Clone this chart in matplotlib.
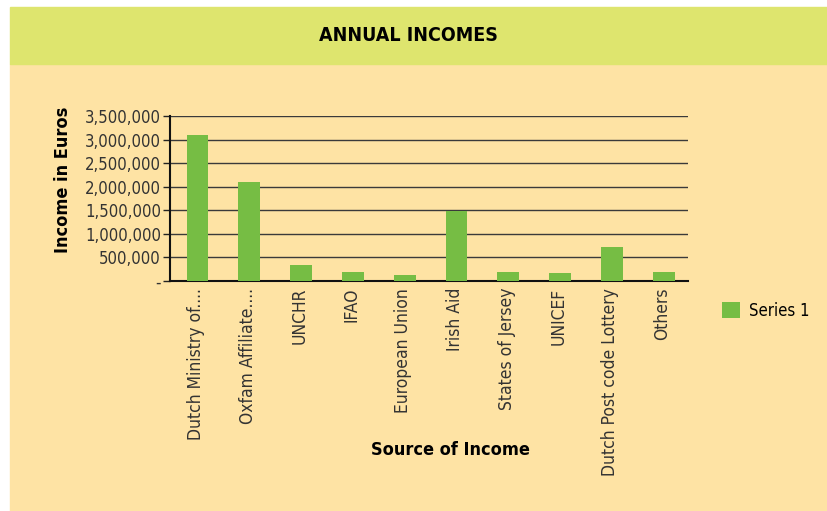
import matplotlib
matplotlib.use("Agg")
import matplotlib.pyplot as plt
from matplotlib.patches import Rectangle
from matplotlib.ticker import FuncFormatter

plt.rcParams['font.family'] = ['DejaVu Sans']
plt.rcParams['font.stretch'] = 'condensed'

# data
sources = ["Dutch Ministry of....", "Oxfam Affiliate....", "UNCHR", "IFAO",
           "European Union", "Irish Aid", "States of Jersey", "UNICEF",
           "Dutch Post code Lottery", "Others"]
incomes = [3100000, 2100000, 340000, 190000, 125000, 1490000, 190000, 170000, 720000, 190000]

header_col = "#dee56e"
panel_col = "#fee3a4"
bar_col = "#76bd44"
text_col = "#333333"

fig = plt.figure(figsize=(8.27, 5.11), dpi=100)
fig.patch.set_facecolor("white")

# header strip and beige panel
fig.patches.append(Rectangle((10/827, 0), 1 - 10/827, (511-64)/511,
                             transform=fig.transFigure, color=panel_col, zorder=-5))
fig.patches.append(Rectangle((10/827, (511-64)/511), 1 - 10/827, 57/511,
                             transform=fig.transFigure, color=header_col, zorder=-5))
fig.text(408/827, 1 - 35/511, "ANNUAL INCOMES", ha="center", va="center",
         fontsize=14, fontweight="bold", color="black")

ax = fig.add_axes([170/827, 1 - 281/511, 518/827, 165/511])
ax.set_facecolor("none")

x = range(len(sources))
ax.bar([i + 0.03 for i in x], incomes, width=0.42, color=bar_col, label="Series 1", zorder=3)

ax.set_ylim(0, 3500000)
ax.set_xlim(-0.5, len(sources) - 0.5)
ax.set_yticks(range(0, 3500001, 500000))
ax.yaxis.set_major_formatter(FuncFormatter(lambda v, p: "-" if v == 0 else "{:,.0f}".format(v)))
ax.grid(axis="y", color="#3a3a3a", linewidth=1, zorder=1)

ax.set_xticks(list(x))
ax.set_xticklabels(sources, rotation=90, ha="center", va="top")
ax.tick_params(axis="x", length=0, pad=5, labelsize=12.5, labelcolor=text_col)
ax.tick_params(axis="y", length=5, width=1, color="#222222", pad=1.5, labelsize=12, labelcolor=text_col)

for s in ["top", "right"]:
    ax.spines[s].set_visible(False)
ax.spines["left"].set_color("#111111")
ax.spines["bottom"].set_color("#111111")
ax.spines["left"].set_linewidth(1.5)
ax.spines["bottom"].set_linewidth(1.5)

ax.set_ylabel("Income in Euros", fontsize=13, fontweight="bold", color="black")
ax.yaxis.set_label_coords(-0.19, 0.615)
fig.text(450/827, 1 - 450/511, "Source of Income", ha="center", va="center",
         fontsize=13, fontweight="bold", color="black")

ax.legend(loc="center left", bbox_to_anchor=(707/827, 1 - 311/511), bbox_transform=fig.transFigure,
          frameon=False, fontsize=12, handlelength=1.1, handleheight=1.1, handletextpad=0.5)

fig.savefig("out.png", dpi=100)
